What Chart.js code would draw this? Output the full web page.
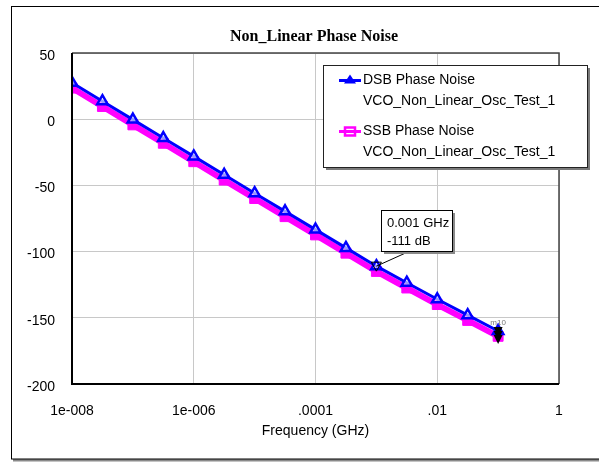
<!DOCTYPE html>
<html>
<head>
<meta charset="utf-8">
<script src="https://cdn.jsdelivr.net/npm/chart.js@4/dist/chart.umd.min.js"></script>
<style>
  html, body { margin: 0; padding: 0; background: #fff; }
  canvas { display: block; }
</style>
</head>
<body>
<canvas id="chart" width="599" height="462"></canvas>
<script>
// frequency points (GHz), one marker every half decade
const freqGHz = [1e-8, 3.16e-8, 1e-7, 3.16e-7, 1e-6, 3.16e-6, 1e-5, 3.16e-5, 1e-4, 3.16e-4, 1e-3, 3.16e-3, 1e-2, 3.16e-2, 1e-1];
const dsbDb = [27.5, 13.6, -0.3, -14.2, -28.1, -42.0, -55.9, -69.6, -83.4, -97.2, -111.0, -123.5, -136.0, -148.0, -160.0];
const ssbDb = [23.5, 9.6, -4.3, -18.2, -32.1, -46.0, -59.9, -73.6, -87.4, -101.2, -115.0, -127.5, -140.0, -152.0, -164.0];

const xTickVals = [1e-8, 1e-6, 1e-4, 1e-2, 1];
const xTickLabels = ['1e-008', '1e-006', '.0001', '.01', '1'];
const yTicks = [-200, -150, -100, -50, 0, 50];

const seriesNames = ['DSB Phase Noise', 'SSB Phase Noise'];
const seriesSource = 'VCO_Non_Linear_Osc_Test_1';

// marker annotation
const markerFreq = 0.001;
const markerDb = -111;
const markerText = ['0.001 GHz', '-111 dB'];

const SANS = "'Liberation Sans', Arial, sans-serif";
const BLUE = '#0000ff';
const PINK = '#ff00ff';

function toPoints(ys) {
    return freqGHz.map((f, i) => ({ x: f, y: ys[i] }));
}

// bits the chart library does not draw itself: frame, title, legend, marker
const extras = {
    id: 'extras',
    beforeDraw(chart) {
        const ctx = chart.ctx;
        ctx.save();
        ctx.fillStyle = '#fff';
        ctx.fillRect(0, 0, chart.width, chart.height);
        // outer frame + shadow
        ctx.fillStyle = '#8a8a8a';
        ctx.fillRect(13, 459, chart.width, 2.5);
        ctx.strokeStyle = '#000';
        ctx.lineWidth = 1;
        ctx.strokeRect(11.5, 6.5, chart.width + 5, 452.5);
        ctx.restore();
    },
    afterDatasetsDraw(chart) {
        const ctx = chart.ctx;
        const a = chart.chartArea;
        ctx.save();
        // plot frame
        ctx.strokeStyle = '#444';
        ctx.lineWidth = 1.5;
        ctx.beginPath();
        ctx.moveTo(a.left, a.top);
        ctx.lineTo(a.right, a.top);
        ctx.lineTo(a.right, a.bottom);
        ctx.stroke();
        ctx.strokeStyle = '#000';
        ctx.lineWidth = 2;
        ctx.beginPath();
        ctx.moveTo(a.left, a.top);
        ctx.lineTo(a.left, a.bottom);
        ctx.lineTo(a.right, a.bottom);
        ctx.stroke();
        ctx.restore();
    },
    afterDraw(chart) {
        const ctx = chart.ctx;
        const xs = chart.scales.x;
        const ys = chart.scales.y;
        ctx.save();

        // title
        ctx.fillStyle = '#000';
        ctx.font = "bold 16px 'Liberation Serif', 'Times New Roman', serif";
        ctx.textAlign = 'center';
        ctx.textBaseline = 'middle';
        ctx.fillText('Non_Linear Phase Noise', 314, 37);

        // end-of-sweep marker stack
        const last = freqGHz.length - 1;
        const ex = xs.getPixelForValue(freqGHz[last]);
        const ey = ys.getPixelForValue(dsbDb[last]);
        ctx.fillStyle = '#000';
        for (let k = 0; k < 3; k++) {
            const cy = ey + k * 4;
            ctx.beginPath();
            ctx.moveTo(ex - 4.5, cy - 4);
            ctx.lineTo(ex + 4.5, cy - 4);
            ctx.lineTo(ex, cy + 5);
            ctx.closePath();
            ctx.fill();
        }
        ctx.fillStyle = '#777';
        ctx.font = '8px ' + SANS;
        ctx.textAlign = 'center';
        ctx.fillText('m10', ex, ey - 8);

        // marker annotation
        const px = xs.getPixelForValue(markerFreq);
        const py = ys.getPixelForValue(markerDb);
        const bx = 381, by = 210, bw = 71, bh = 41;
        ctx.strokeStyle = '#000';
        ctx.lineWidth = 1;
        ctx.beginPath();
        ctx.moveTo(410, by + bh);
        ctx.lineTo(px, py);
        ctx.stroke();
        ctx.beginPath();
        ctx.moveTo(px - 5, py - 4);
        ctx.lineTo(px + 5, py - 4);
        ctx.lineTo(px, py + 5);
        ctx.closePath();
        ctx.stroke();
        ctx.fillStyle = '#8a8a8a';
        ctx.fillRect(bx + 3, by + 3, bw, bh);
        ctx.fillStyle = '#fff';
        ctx.fillRect(bx, by, bw, bh);
        ctx.strokeRect(bx + 0.5, by + 0.5, bw, bh);
        ctx.fillStyle = '#000';
        ctx.font = '13px ' + SANS;
        ctx.textAlign = 'left';
        ctx.textBaseline = 'middle';
        ctx.fillText(markerText[0], bx + 6, by + 13);
        ctx.fillText(markerText[1], bx + 6, by + 31);

        // legend box
        const lx = 323, ly = 65, lw = 264, lh = 102;
        ctx.fillStyle = '#7a7a7a';
        ctx.fillRect(lx + 3, ly + 3, lw, lh);
        ctx.fillStyle = '#fff';
        ctx.fillRect(lx, ly, lw, lh);
        ctx.strokeStyle = '#222';
        ctx.lineWidth = 1;
        ctx.strokeRect(lx + 0.5, ly + 0.5, lw, lh);

        const rows = [80.5, 131.5];
        const colors = [BLUE, PINK];
        rows.forEach((ry, i) => {
            ctx.strokeStyle = colors[i];
            ctx.lineWidth = 3;
            ctx.beginPath();
            ctx.moveTo(339, ry);
            ctx.lineTo(361, ry);
            ctx.stroke();
            if (i === 0) {
                ctx.fillStyle = BLUE;
                ctx.beginPath();
                ctx.moveTo(350, ry - 6);
                ctx.lineTo(356, ry + 3);
                ctx.lineTo(344, ry + 3);
                ctx.closePath();
                ctx.fill();
            } else {
                ctx.lineWidth = 2.5;
                ctx.strokeRect(345, ry - 4, 10, 8);
            }
            ctx.fillStyle = '#000';
            ctx.font = '14px ' + SANS;
            ctx.textAlign = 'left';
            ctx.textBaseline = 'middle';
            ctx.fillText(seriesNames[i], 363, ry);
            ctx.fillText(seriesSource, 363, ry + 21);
        });

        ctx.restore();
    }
};

new Chart(document.getElementById('chart'), {
    type: 'line',
    data: {
        datasets: [
            {
                label: seriesNames[0],
                data: toPoints(dsbDb),
                borderColor: BLUE,
                borderWidth: 3,
                pointStyle: 'triangle',
                pointRadius: 6,
                pointBorderWidth: 2.5,
                pointBorderColor: BLUE,
                pointBackgroundColor: 'rgba(255,255,255,0.6)',
                tension: 0,
                clip: 0
            },
            {
                label: seriesNames[1],
                data: toPoints(ssbDb),
                borderColor: PINK,
                borderWidth: 6,
                pointStyle: 'rect',
                pointRadius: 7,
                pointBorderWidth: 1,
                pointBorderColor: PINK,
                pointBackgroundColor: PINK,
                tension: 0,
                clip: 0
            }
        ]
    },
    options: {
        responsive: false,
        animation: false,
        events: [],
        layout: { padding: { left: 0, right: 40, top: 53, bottom: 22 } },
        plugins: {
            legend: { display: false },
            title: { display: false },
            tooltip: { enabled: false }
        },
        scales: {
            x: {
                type: 'logarithmic',
                min: 1e-8,
                max: 1,
                afterBuildTicks(axis) {
                    axis.ticks = xTickVals.map(v => ({ value: v }));
                },
                afterFit(axis) { axis.height = 56; },
                ticks: {
                    autoSkip: false,
                    maxRotation: 0,
                    padding: 19,
                    color: '#000',
                    font: { family: SANS, size: 14 },
                    callback: (val, i) => xTickLabels[i]
                },
                grid: { color: '#c8c8c8', lineWidth: 1, drawTicks: false },
                border: { display: false },
                title: {
                    display: true,
                    text: 'Frequency (GHz)',
                    color: '#000',
                    font: { family: SANS, size: 14 },
                    padding: { top: 4, bottom: 0 }
                }
            },
            y: {
                min: -200,
                max: 50,
                afterBuildTicks(axis) {
                    axis.ticks = yTicks.map(v => ({ value: v }));
                },
                afterFit(axis) { axis.width = 72; },
                ticks: {
                    padding: 17,
                    labelOffset: 3,
                    color: '#000',
                    font: { family: SANS, size: 14 }
                },
                grid: { color: '#c8c8c8', lineWidth: 1, drawTicks: false },
                border: { display: false }
            }
        }
    },
    plugins: [extras]
});
</script>
</body>
</html>
